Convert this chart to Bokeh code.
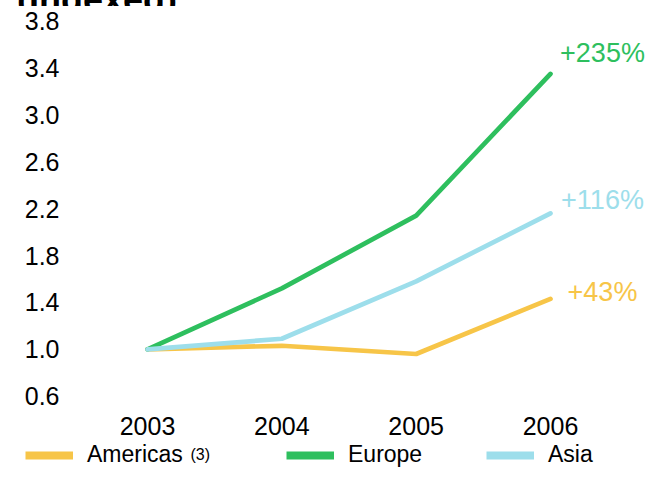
from bokeh.plotting import figure
from bokeh.layouts import column
from bokeh.models import (FixedTicker, PrintfTickFormatter, Range1d, Label,
                          Legend, LegendItem, ColumnDataSource, Div)
from bokeh.core.properties import value
from bokeh.embed import file_html
from bokeh.resources import INLINE

# ---- data ----
years = [2003, 2004, 2005, 2006]
year_labels = ["2003", "2004", "2005", "2006"]
americas = [1.00, 1.03, 0.96, 1.43]
europe = [1.00, 1.52, 2.14, 3.35]
asia = [1.00, 1.09, 1.58, 2.16]
series_names = ["Americas", "Europe", "Asia"]
end_labels = ["+43%", "+235%", "+116%"]
y_ticks = [0.6, 1.0, 1.4, 1.8, 2.2, 2.6, 3.0, 3.4, 3.8]
title_text = "(Indexed)"
footnote_mark = "(3)"

# ---- styles ----
colors = ["#F7C548", "#2EBF5E", "#9DDEEB"]
FONT = "Liberation Sans"
end_label_dy = [-7, -21, -13]
legend_x = [25, 286, 486]
W = 648


def bare_figure(h):
    f = figure(frame_width=W, frame_height=h, output_backend="svg",
               toolbar_location=None,
               x_axis_location=None, y_axis_location=None,
               x_range=Range1d(0, 1), y_range=Range1d(0, 1),
               min_border=0, min_border_left=0, min_border_right=0,
               min_border_top=0, min_border_bottom=0, frame_align=False)
    f.grid.visible = False
    f.outline_line_color = None
    f.background_fill_color = "white"
    f.border_fill_color = "white"
    return f


# ---- title strip (cut off at the top, as in the reference) ----
tf = Div(text='<div style="margin:-24px 0 0 17px;white-space:nowrap;'
              'font-family:\'Liberation Sans\';font-weight:bold;'
              'font-size:36px;line-height:36px;color:#000">'
              + title_text + '</div>',
         width=W, height=6, margin=0,
         styles={"overflow": "hidden", "background": "white"})

# ---- main chart ----
p = figure(width=W, height=436, output_backend="svg", toolbar_location=None,
           x_range=Range1d(2002.4119, 2006.7296),
           y_range=Range1d(0.5119, 3.9078),
           min_border_left=68, min_border_right=0,
           min_border_top=2, min_border_bottom=36, frame_align=False)
p.grid.visible = False
p.outline_line_color = None
p.background_fill_color = "white"
p.border_fill_color = "white"

p.xaxis.ticker = FixedTicker(ticks=years)
p.xaxis.major_label_overrides = {y: s for y, s in zip(years, year_labels)}
p.yaxis.ticker = FixedTicker(ticks=y_ticks)
p.yaxis.formatter = PrintfTickFormatter(format="%.1f")
for ax in (p.xaxis[0], p.yaxis[0]):
    ax.axis_line_color = None
    ax.major_tick_line_color = None
    ax.minor_tick_line_color = None
    ax.major_tick_out = 0
    ax.major_tick_in = 0
    ax.minor_tick_out = 0
    ax.major_label_text_font = FONT
    ax.major_label_text_font_size = "25px"
    ax.major_label_text_color = "#000000"
p.xaxis.major_label_standoff = 10
p.yaxis.major_label_standoff = 9

src = ColumnDataSource(dict(year=years, americas=americas, europe=europe, asia=asia))
for key, c in zip(["americas", "europe", "asia"], colors):
    p.line("year", key, source=src, line_color=c, line_width=4.7,
           line_cap="round", line_join="round")

end_src = ColumnDataSource(dict(
    x=[years[-1]] * 3,
    y=[americas[-1], europe[-1], asia[-1]],
    text=end_labels, color=colors, dy=end_label_dy))
p.text(x="x", y="y", text="text", source=end_src, text_color="color",
       text_font=value(FONT), text_font_size="27px", text_align="center",
       text_baseline="middle", x_offset=52, y_offset="dy")

# ---- legend strip ----
lf = bare_figure(26)
swatches = [lf.line(x=[0.5, 0.5], y=[-5, -5], line_color=c, line_width=8)
            for c in colors]
for name, r, lx in zip(series_names, swatches, legend_x):
    lg = Legend(items=[LegendItem(label=name, renderers=[r])],
                location=(lx, 0), orientation="horizontal",
                glyph_width=48, glyph_height=16, label_height=26,
                label_standoff=14, padding=0, margin=0, spacing=0,
                border_line_alpha=0, background_fill_alpha=0,
                label_text_font=FONT, label_text_font_size="23px",
                label_text_baseline="middle", label_text_color="#000000")
    lf.add_layout(lg)
lf.add_layout(Label(x=190, y=14, x_units="screen", y_units="screen",
                    text=footnote_mark, text_font=FONT, text_font_size="16px",
                    text_baseline="alphabetic", text_color="#000000"))

layout = column(tf, p, lf, spacing=0)

with open("out.html", "w") as f:
    f.write(file_html(layout, INLINE))
